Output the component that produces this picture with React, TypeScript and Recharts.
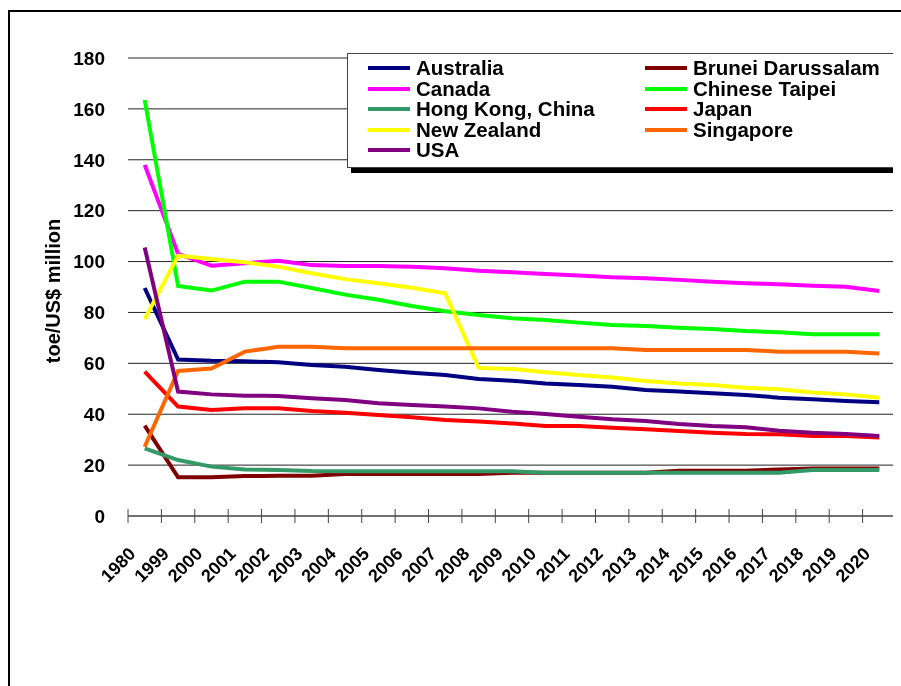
import { CartesianGrid, Label, Line, LineChart, XAxis, YAxis } from "recharts";

const years = [
    "1980", "1999", "2000", "2001", "2002", "2003", "2004", "2005", "2006", "2007", "2008",
    "2009", "2010", "2011", "2012", "2013", "2014", "2015", "2016", "2017", "2018", "2019", "2020",
];

const australia = [89.6, 61.5, 61.0, 60.8, 60.4, 59.3, 58.7, 57.4, 56.3, 55.4, 53.8, 53.2, 52.1, 51.5, 50.8, 49.5, 48.9, 48.2, 47.6, 46.5, 45.9, 45.2, 44.7];
const brunei = [35.5, 15.2, 15.2, 15.7, 15.8, 15.8, 16.5, 16.5, 16.5, 16.5, 16.5, 17.0, 17.0, 17.0, 17.0, 17.0, 17.8, 17.8, 17.8, 18.3, 18.7, 18.7, 18.7];
const canada = [138, 103, 98.4, 99.3, 100.3, 98.6, 98.3, 98.3, 98.0, 97.4, 96.4, 95.8, 95.1, 94.5, 93.8, 93.4, 92.8, 92.1, 91.5, 91.1, 90.5, 90.1, 88.4];
const chineseTaipei = [163.5, 90.4, 88.6, 92.1, 92.1, 89.6, 87.0, 85.0, 82.5, 80.5, 79.0, 77.7, 77.0, 76.0, 75.1, 74.7, 74.0, 73.5, 72.7, 72.2, 71.4, 71.4, 71.4];
const hongKong = [26.6, 22.0, 19.4, 18.3, 18.1, 17.7, 17.6, 17.6, 17.6, 17.6, 17.6, 17.6, 17.0, 17.0, 17.0, 17.0, 17.0, 17.0, 17.0, 17.0, 18.1, 18.1, 18.1];
const japan = [56.7, 43.0, 41.7, 42.3, 42.3, 41.3, 40.6, 39.7, 38.8, 37.7, 37.1, 36.4, 35.4, 35.4, 34.7, 34.1, 33.4, 32.7, 32.2, 32.1, 31.4, 31.4, 30.9];
const newZealand = [77.4, 102.3, 101.0, 99.7, 98.0, 95.4, 93.1, 91.5, 89.7, 87.5, 58.2, 57.8, 56.5, 55.4, 54.4, 53.1, 52.1, 51.5, 50.4, 49.8, 48.5, 47.8, 46.5];
const singapore = [27.2, 57.0, 58.0, 64.6, 66.5, 66.5, 65.9, 65.9, 65.9, 65.9, 65.9, 65.9, 65.9, 65.9, 65.9, 65.2, 65.2, 65.2, 65.2, 64.6, 64.6, 64.6, 63.9];
const usa = [105.5, 48.9, 47.8, 47.3, 47.2, 46.3, 45.6, 44.3, 43.6, 43.0, 42.3, 41.0, 40.1, 39.0, 38.0, 37.3, 36.2, 35.4, 34.9, 33.5, 32.7, 32.2, 31.4];

const yTicks = [0, 20, 40, 60, 80, 100, 120, 140, 160, 180];

const series = [
    { key: "australia", name: "Australia", color: "#000080", values: australia },
    { key: "brunei", name: "Brunei Darussalam", color: "#800000", values: brunei },
    { key: "canada", name: "Canada", color: "#FF00FF", values: canada },
    { key: "taipei", name: "Chinese Taipei", color: "#00FF00", values: chineseTaipei },
    { key: "hongkong", name: "Hong Kong, China", color: "#339966", values: hongKong },
    { key: "japan", name: "Japan", color: "#FF0000", values: japan },
    { key: "nz", name: "New Zealand", color: "#FFFF00", values: newZealand },
    { key: "singapore", name: "Singapore", color: "#FF6600", values: singapore },
    { key: "usa", name: "USA", color: "#800080", values: usa },
];

const data = years.map((year, i) => {
    const row: any = { year };
    series.forEach((s) => (row[s.key] = s.values[i]));
    return row;
});

const FONT = '"Liberation Sans", Arial, sans-serif';
const CHART_W = 893;
const CHART_H = 670;
const PLOT_W = 768;
const STEP = PLOT_W / years.length;

function YearTick(props: any) {
    const { x, y, payload, index } = props;
    const half = STEP / 2;
    const tx = x - 8;
    const ty = y + 39;
    return (
        <g>
            <line x1={x - half} x2={x - half} y1={y - 7} y2={y + 7} stroke="#444" />
            {index === years.length - 1 && (
                <line x1={x + half} x2={x + half} y1={y - 7} y2={y + 7} stroke="#444" />
            )}
            <text
                x={tx}
                y={ty}
                textAnchor="end"
                transform={`rotate(-45, ${tx}, ${ty})`}
                fontSize={18}
                fontWeight={700}
                fontFamily={FONT}
                fill="#000"
            >
                {payload.value}
            </text>
        </g>
    );
}

function YLabel(props: any) {
    const { viewBox } = props;
    const x = 45;
    const y = viewBox.y + viewBox.height / 2 + 4;
    return (
        <text
            x={x}
            y={y}
            transform={`rotate(-90, ${x}, ${y})`}
            textAnchor="middle"
            dominantBaseline="central"
            fontSize={20}
            fontWeight={700}
            fontFamily={FONT}
            fill="#000"
        >
            toe/US$ million
        </text>
    );
}

function ChartLegend() {
    return (
        <div
            style={{
                position: "absolute",
                left: 339,
                top: 45,
                width: 552,
                height: 115,
                boxSizing: "border-box",
                border: "1px solid #444",
                boxShadow: "4px 5px 0 #000",
                background: "#fff",
            }}
        >
            {series.map((s, i) => (
                <div
                    key={s.key}
                    style={{
                        position: "absolute",
                        left: i % 2 === 0 ? 20 : 297,
                        top: 4 + Math.floor(i / 2) * 20.5,
                        height: 20,
                        display: "flex",
                        alignItems: "center",
                        whiteSpace: "nowrap",
                    }}
                >
                    <div style={{ width: 42, height: 4, background: s.color, marginRight: 6 }} />
                    <span
                        style={{
                            display: "block",
                            height: 20,
                            fontFamily: FONT,
                            fontWeight: 700,
                            fontSize: 20.5,
                            lineHeight: "20px",
                            color: "#000",
                        }}
                    >
                        {s.name}
                    </span>
                </div>
            ))}
        </div>
    );
}

export default function App() {
    return (
        <div>
            <style>{"html, body { overflow: hidden; }"}</style>
            <div
                style={{
                    position: "fixed",
                    left: 8,
                    top: 10,
                    width: 1200,
                    height: 1200,
                    border: "2px solid #000",
                }}
            />
            <div style={{ position: "relative", width: CHART_W, height: CHART_H }}>
                <LineChart
                    width={CHART_W}
                    height={CHART_H}
                    data={data}
                    margin={{ top: 50, right: 5, left: 0, bottom: 102 }}
                >
                    <CartesianGrid vertical={false} stroke="#222" />
                    <XAxis
                        dataKey="year"
                        interval={0}
                        height={60}
                        padding={{ left: STEP / 2, right: STEP / 2 }}
                        tickLine={false}
                        tickSize={0}
                        tickMargin={0}
                        axisLine={{ stroke: "#555" }}
                        tick={<YearTick />}
                    />
                    <YAxis
                        width={120}
                        domain={[0, 180]}
                        ticks={yTicks}
                        interval={0}
                        axisLine={false}
                        tickLine={false}
                        tickSize={0}
                        tickMargin={23}
                        tick={{ fontSize: 19, fontWeight: 700, fill: "#000", fontFamily: FONT }}
                    >
                        <Label content={<YLabel />} />
                    </YAxis>
                    {series.map((s) => (
                        <Line
                            key={s.key}
                            type="linear"
                            dataKey={s.key}
                            name={s.name}
                            stroke={s.color}
                            strokeWidth={4}
                            dot={false}
                            activeDot={false}
                            isAnimationActive={false}
                        />
                    ))}
                </LineChart>
                <ChartLegend />
            </div>
        </div>
    );
}
